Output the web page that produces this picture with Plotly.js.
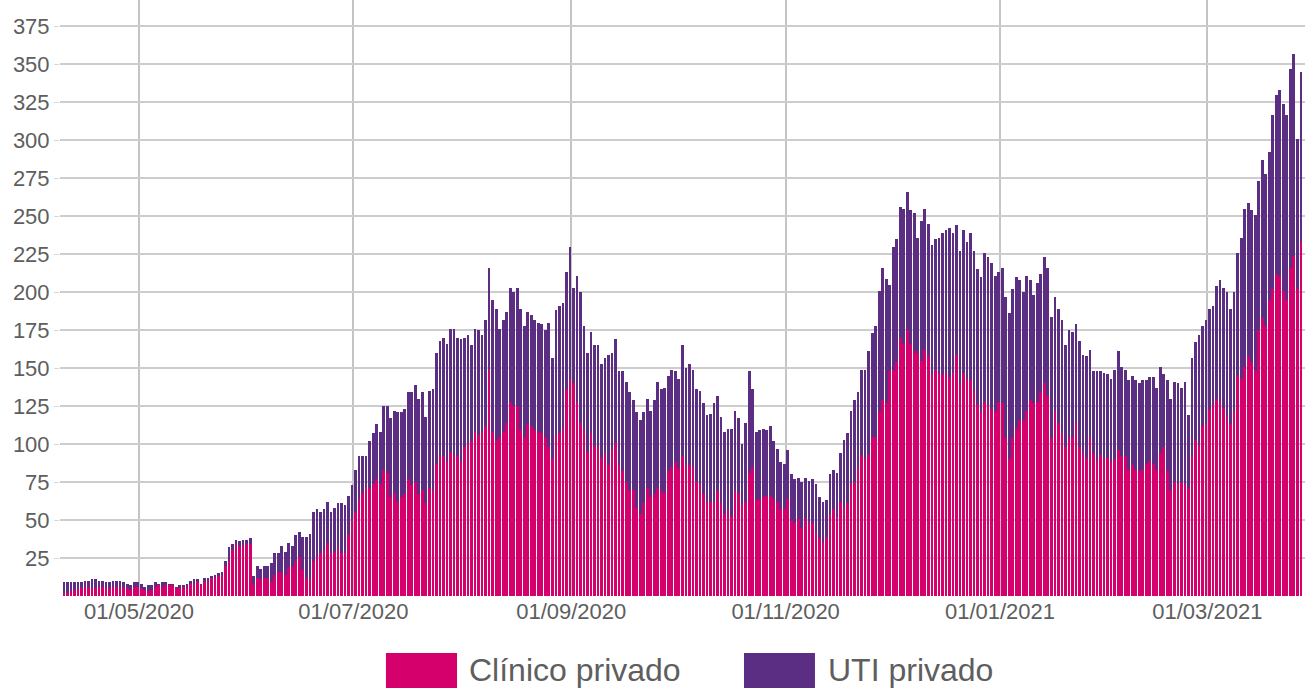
<!DOCTYPE html>
<html>
<head>
<meta charset="utf-8">
<script src="https://cdn.plot.ly/plotly-3.0.1.min.js"></script>
<style>
  html, body { margin: 0; padding: 0; background: #ffffff; }
  #chart { width: 1305px; height: 688px; }
</style>
</head>
<body>
<div id="chart"></div>
<script>
// Daily series, starting 09/04/2020 (one value per day)
const startDate = "2020-04-09";
const seriesNames = ["Clínico privado", "UTI privado"];
const yTickValues = [25, 50, 75, 100, 125, 150, 175, 200, 225, 250, 275, 300, 325, 350, 375];

const clinico = [
  2,2,3,4,5,5,6,6,5,5,
  6,6,6,5,6,6,6,6,5,4,
  6,6,5,4,3,4,6,7,6,7,
  7,7,5,5,6,6,8,8,9,7,
  9,10,12,12,13,14,20,23,30,34,
  33,33,34,34,8,12,11,12,12,9,
  14,16,16,14,19,19,23,26,17,12,
  11,23,26,28,30,35,28,29,32,28,
  28,40,50,55,64,68,72,71,74,77,
  74,83,81,65,68,62,65,67,77,73,
  75,67,70,61,71,69,87,93,92,88,
  95,93,92,88,98,101,102,108,106,108,
  112,149,108,103,105,108,114,128,125,125,
  109,105,113,112,109,108,107,105,98,90,
  106,107,110,136,143,140,128,114,109,95,
  107,99,98,91,94,86,96,101,86,82,
  75,70,70,58,54,61,71,65,67,71,
  69,68,82,85,88,84,92,86,86,85,
  75,74,67,62,62,62,69,61,54,57,
  53,69,68,60,62,81,85,63,64,65,
  66,66,64,62,57,57,64,50,48,51,
  45,51,48,48,42,38,35,39,54,57,
  52,62,58,61,74,75,85,93,90,93,
  105,105,121,129,127,148,149,154,170,166,
  175,166,161,160,155,162,158,146,149,147,
  146,147,144,147,159,140,147,143,142,135,
  126,121,128,126,123,121,128,127,104,90,
  104,110,116,115,122,129,127,128,134,140,
  132,104,122,114,107,98,104,105,114,98,
  94,91,105,94,89,93,91,91,88,90,
  96,92,92,83,86,83,82,83,87,89,
  87,83,94,98,82,70,75,74,75,74,
  71,92,103,99,112,113,123,126,130,128,
  124,118,113,122,145,143,151,158,154,148,
  175,183,178,195,202,212,211,201,195,216,
  224,202,233
];

const uti = [
  7,7,6,5,4,4,4,4,6,6,
  4,4,3,4,4,4,4,3,3,3,
  3,3,3,2,4,3,3,1,3,2,
  1,1,1,2,1,2,2,3,2,1,
  3,2,1,2,2,2,3,9,4,3,
  3,4,3,4,5,8,7,8,8,13,
  14,12,17,15,16,14,17,16,22,27,
  30,32,31,27,27,27,27,29,29,33,
  32,26,23,28,28,24,20,31,33,36,
  34,42,44,52,54,59,56,56,57,61,
  64,63,64,57,64,67,73,75,78,78,
  81,83,78,81,72,71,63,68,69,64,
  70,67,87,86,71,74,73,75,75,78,
  80,73,74,73,73,72,72,70,82,67,
  82,84,83,77,87,63,83,86,69,65,
  67,66,67,62,63,73,64,68,62,66,
  66,64,59,63,62,60,59,57,62,70,
  67,69,63,64,60,59,73,64,67,64,
  61,61,60,57,58,65,63,57,54,53,
  57,53,49,40,52,67,51,45,45,45,
  43,46,38,35,31,30,32,30,29,27,
  30,27,28,29,32,27,27,24,26,26,
  29,32,45,46,48,54,49,56,59,68,
  68,73,80,87,82,57,81,81,86,89,
  91,88,91,76,92,93,87,85,86,89,
  93,94,98,92,85,87,94,90,97,92,
  89,89,98,97,96,90,85,89,93,96,
  98,100,92,85,89,79,71,78,78,83,
  84,80,75,75,75,67,71,69,65,70,
  65,67,57,54,59,55,56,55,55,59,
  65,59,57,59,59,59,58,59,55,55,
  57,54,57,48,60,60,66,66,62,67,
  48,65,64,73,66,69,66,65,74,80,
  79,82,76,78,81,93,104,101,100,103,
  98,104,100,97,115,118,122,123,122,131,
  133,99,112
];

// build the daily date axis (bars centred a little after midnight of each day)
function pad(n) { return (n < 10 ? "0" : "") + n; }
const dates = [];
const t0 = Date.parse(startDate + "T00:00:00Z");
for (let i = 0; i < clinico.length; i++) {
  const d = new Date(t0 + i * 86400000);
  dates.push(d.getUTCFullYear() + "-" + pad(d.getUTCMonth() + 1) + "-" + pad(d.getUTCDate()) + " 15:00");
}

const pink = "#d6006d";
const purple = "#5b2d83";
const fontFam = "Liberation Sans, Arial, sans-serif";
const textGray = "#5e5e5e";

const traces = [
  { type: "bar", name: seriesNames[0], x: dates, y: clinico,
    marker: { color: pink, line: { width: 0 } }, hoverinfo: "x+y+name" },
  { type: "bar", name: seriesNames[1], x: dates, y: uti,
    marker: { color: purple, line: { width: 0 } }, hoverinfo: "x+y+name" }
];

const layout = {
  width: 1305, height: 688,
  margin: { l: 60, r: 0, t: 0, b: 92 },
  paper_bgcolor: "#ffffff", plot_bgcolor: "#ffffff",
  barmode: "stack", bargap: 0.22,
  showlegend: false,
  font: { family: fontFam, color: textGray },
  xaxis: {
    type: "date",
    range: ["2020-04-08 12:28", "2021-03-28 19:12"],
    tick0: "2020-05-01", dtick: "M2", tickformat: "%d/%m/%Y",
    showgrid: true, gridcolor: "#c4c4c4", gridwidth: 2,
    ticks: "", zeroline: false, showline: false,
    tickfont: { family: fontFam, size: 22, color: textGray }
  },
  yaxis: {
    range: [0, 392.4],
    tickmode: "array", tickvals: yTickValues, ticktext: yTickValues.map(String),
    showgrid: true, gridcolor: "#cdcdcd", gridwidth: 2,
    ticks: "outside", ticklen: 5, tickcolor: "#d8d8d8", tickwidth: 1,
    zeroline: false, showline: false,
    tickfont: { family: fontFam, size: 22, color: textGray }
  },
  shapes: [
    { type: "rect", xref: "paper", yref: "paper", x0: 0.2618, x1: 0.3189, y0: -0.1577, y1: -0.0956,
      fillcolor: pink, line: { width: 0 } },
    { type: "rect", xref: "paper", yref: "paper", x0: 0.5494, x1: 0.6064, y0: -0.1577, y1: -0.0956,
      fillcolor: purple, line: { width: 0 } }
  ],
  annotations: [
    { xref: "paper", yref: "paper", x: 0.3269, y: -0.1242, xanchor: "left", yanchor: "middle",
      text: seriesNames[0], showarrow: false, font: { family: fontFam, size: 32, color: textGray } },
    { xref: "paper", yref: "paper", x: 0.6153, y: -0.1242, xanchor: "left", yanchor: "middle",
      text: seriesNames[1], showarrow: false, font: { family: fontFam, size: 32, color: textGray } }
  ]
};

Plotly.newPlot("chart", traces, layout, { displayModeBar: false, staticPlot: true });
</script>
</body>
</html>
